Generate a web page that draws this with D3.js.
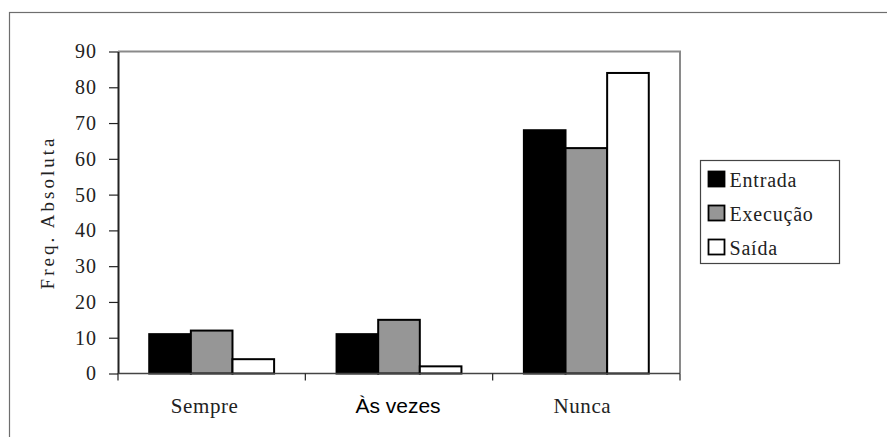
<!DOCTYPE html>
<html>
<head>
<meta charset="utf-8">
<script src="https://cdn.jsdelivr.net/npm/d3@7"></script>
<style>
  html, body { margin: 0; padding: 0; background: #fff; }
  svg { display: block; }
  .serif { font-family: "Liberation Serif", "Times New Roman", Tinos, "Noto Serif", "DejaVu Serif", FreeSerif, Georgia, Times, serif; }
  .sans { font-family: "Liberation Sans", Arial, sans-serif; }
</style>
</head>
<body>
<svg id="chart" width="887" height="437"></svg>
<script>
// Frequency of each answer, per phase
const categories = ["Sempre", "Às vezes", "Nunca"];
const series = ["Entrada", "Execução", "Saída"];
const entrada = [11, 11, 68];
const execucao = [12, 15, 63];
const saida = [4, 2, 84];
const yTicks = [0, 10, 20, 30, 40, 50, 60, 70, 80, 90];

const seriesValues = [entrada, execucao, saida];
const fills = ["#000000", "#969696", "#ffffff"];

const svg = d3.select("#chart");

// outer chart frame
svg.append("rect")
  .attr("x", 9.5).attr("y", 12.5)
  .attr("width", 900).attr("height", 500)
  .attr("fill", "none").attr("stroke", "#6e6e6e").attr("stroke-width", 1.2);

const plot = { left: 118, right: 680, top: 51.5, bottom: 373.5 };

const x = d3.scaleBand().domain(categories).range([plot.left, plot.right]).padding(0);
const xs = d3.scaleBand().domain(series).range([0, x.bandwidth()])
  .paddingInner(0).paddingOuter(0.75);
const y = d3.scaleLinear().domain([0, 90]).range([plot.bottom, plot.top]);

// plot area border (top and right in gray)
svg.append("path")
  .attr("d", `M${plot.left},${plot.top}H${plot.right}V${plot.bottom}`)
  .attr("fill", "none").attr("stroke", "#8a8a8a").attr("stroke-width", 2);

// bars
const rows = categories.map((c, i) => ({ c, vals: series.map((s, j) => ({ s, j, v: seriesValues[j][i] })) }));
const g = svg.append("g");
rows.forEach(r => {
  g.selectAll(null).data(r.vals).enter().append("rect")
    .attr("x", d => x(r.c) + xs(d.s))
    .attr("y", d => y(d.v))
    .attr("width", xs.bandwidth())
    .attr("height", d => y(0) - y(d.v))
    .attr("fill", d => fills[d.j])
    .attr("stroke", "#000").attr("stroke-width", 2);
});

// y axis
const yAxis = d3.axisLeft(y).tickValues(yTicks).tickSize(9).tickPadding(12).tickSizeOuter(0);
const ya = svg.append("g").attr("transform", `translate(${plot.left},0)`).call(yAxis);
ya.attr("font-family", null).attr("font-size", null);
ya.select(".domain").attr("stroke", "#222").attr("stroke-width", 2);
ya.selectAll(".tick line").attr("stroke", "#222").attr("stroke-width", 1.2);
ya.selectAll(".tick text")
  .attr("class", "serif").style("font-size", "20px").attr("fill", "#222")
  .attr("letter-spacing", 1);

// x axis line and category separators
svg.append("line")
  .attr("x1", plot.left).attr("x2", plot.right)
  .attr("y1", plot.bottom).attr("y2", plot.bottom)
  .attr("stroke", "#444").attr("stroke-width", 1.5);
const bounds = categories.map(c => x(c)).concat([plot.right]);
svg.selectAll(".xtick").data(bounds).enter().append("line")
  .attr("x1", d => d).attr("x2", d => d)
  .attr("y1", plot.bottom).attr("y2", plot.bottom + 7)
  .attr("stroke", "#222").attr("stroke-width", 1.2);

// category labels
const labelShift = [-7, -1, -4];
svg.selectAll(".xlabel").data(categories).enter().append("text")
  .attr("class", (d, i) => i === 1 ? "sans" : "serif")
  .attr("x", (d, i) => x(d) + x.bandwidth() / 2 + labelShift[i])
  .attr("y", 413)
  .attr("text-anchor", "middle")
  .style("font-size", "21px")
  .attr("letter-spacing", (d, i) => i === 1 ? 0 : 0.6)
  .attr("fill", (d, i) => i === 1 ? "#000" : "#222")
  .text(d => d);

// y axis title
svg.append("text")
  .attr("class", "serif")
  .attr("transform", `translate(54,${(plot.top + plot.bottom) / 2}) rotate(-90)`)
  .attr("text-anchor", "middle")
  .style("font-size", "19px")
  .attr("letter-spacing", 3).attr("fill", "#222")
  .text("Freq. Absoluta");

// legend
const lg = svg.append("g").attr("transform", "translate(700.5,160.5)");
lg.append("rect").attr("width", 139).attr("height", 103)
  .attr("fill", "#fff").attr("stroke", "#444").attr("stroke-width", 1.2);
series.forEach((s, i) => {
  const row = lg.append("g").attr("transform", `translate(0,${11 + i * 34})`);
  row.append("rect").attr("x", 8).attr("y", 0).attr("width", 16).attr("height", 15)
    .attr("fill", fills[i]).attr("stroke", "#000").attr("stroke-width", 1.8);
  row.append("text").attr("class", "serif").attr("x", 29).attr("y", 15)
    .style("font-size", "20px")
    .attr("letter-spacing", 0.8).attr("fill", "#222")
    .text(s);
});
</script>
</body>
</html>
